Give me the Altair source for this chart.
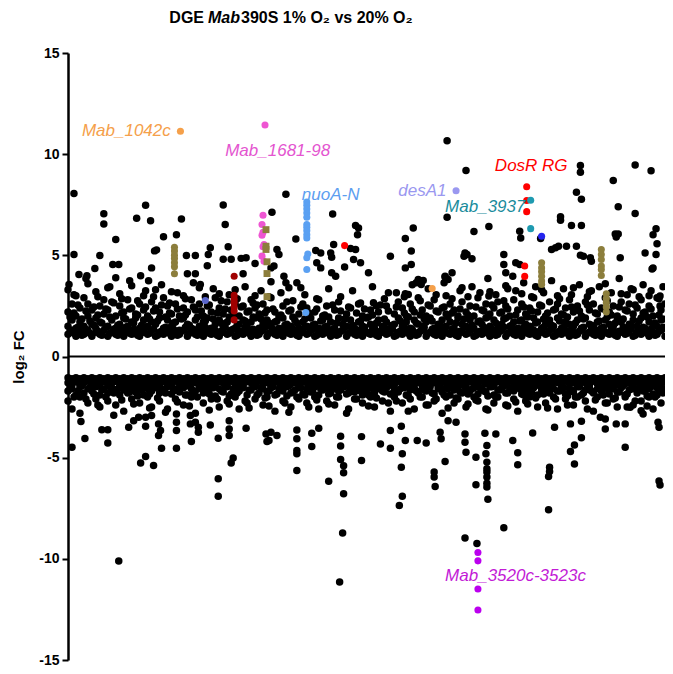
import altair as alt
import pandas as pd

# ---------------- data (x = gene position index, y = log2 FC) ----------------
band_up = {
    0: [1.1, 1.5, 2.2, 3.3], 4: [1.3, 1.8, 2.6], 8: [1.0, 1.4, 2.0, 3.0], 12: [1.2, 1.7, 2.4],
    16: [1.1, 1.5, 2.9], 20: [1.3, 2.0, 2.6, 3.6], 24: [1.0, 1.6, 2.3], 28: [1.2, 1.4, 1.9, 3.2],
    32: [1.1, 1.7, 2.5], 36: [1.3, 2.1, 2.8], 40: [1.0, 1.5, 2.3, 3.4], 44: [1.2, 1.8, 2.7],
    48: [1.1, 1.4, 2.0], 52: [1.3, 1.6, 2.5, 3.1], 56: [1.0, 1.9, 2.2], 60: [1.2, 1.5, 2.8],
    64: [1.1, 1.7, 2.4, 3.5], 68: [1.3, 1.9, 2.1], 72: [1.0, 1.4, 2.6], 76: [1.2, 1.8, 2.3, 3.0],
    80: [1.1, 1.5, 2.0], 84: [1.3, 1.7, 2.7], 88: [1.0, 1.6, 2.4, 3.3], 92: [1.2, 1.9, 2.2],
    96: [1.1, 1.4, 2.9], 100: [1.3, 1.8, 2.5], 104: [1.0, 1.5, 2.1, 3.2], 108: [1.2, 1.7, 2.6],
    112: [1.1, 1.3, 2.0], 116: [1.3, 1.9, 2.4, 3.0], 120: [1.0, 1.6, 2.2], 124: [1.2, 1.4, 2.8],
    128: [1.1, 1.8, 2.3], 132: [1.3, 1.5, 2.6, 3.4], 136: [1.0, 1.7, 2.0], 140: [1.2, 1.9, 2.5],
    144: [1.1, 1.4, 2.2], 148: [1.3, 1.6, 2.9], 152: [1.0, 1.8, 2.4, 3.1], 156: [1.2, 1.5, 2.1],
    160: [1.1, 1.7, 2.7], 164: [1.3, 1.9, 2.3], 168: [1.0, 1.4, 2.6, 3.3], 172: [1.2, 1.6, 2.0],
    176: [1.1, 1.8, 2.5], 180: [1.3, 1.5, 2.2], 184: [1.0, 1.7, 2.8], 188: [1.2, 1.9, 2.4, 3.0],
    192: [1.1, 1.4, 2.1], 196: [1.3, 1.6, 2.6], 200: [1.0, 1.8, 2.3], 204: [1.2, 1.5, 2.9],
    208: [1.1, 1.7, 2.2], 212: [1.3, 1.4, 2.0], 216: [1.0, 1.9, 2.5], 220: [1.2, 1.6, 2.7],
    224: [1.1, 1.5, 2.3], 228: [1.3, 1.8], 232: [1.0, 1.4, 2.1], 236: [1.2, 1.7, 2.6],
    240: [1.1, 1.5, 2.4], 244: [1.3, 1.9], 248: [1.0, 1.6, 2.2], 252: [1.2, 1.4, 2.8],
    256: [1.1, 1.8, 2.0], 260: [1.3, 1.5, 2.5], 264: [1.0, 1.7], 268: [1.2, 1.4, 2.3],
    272: [1.1, 1.9, 2.7], 276: [1.3, 1.6], 280: [1.0, 1.5, 2.1], 284: [1.2, 1.8, 2.4],
    288: [1.1, 1.4], 292: [1.3, 1.7, 2.6], 296: [1.0, 1.5, 2.0], 300: [1.2, 1.9],
    304: [1.1, 1.6, 2.3], 308: [1.3, 1.4], 312: [1.0, 1.8, 2.2], 316: [1.2, 1.5],
    320: [1.1, 1.7, 2.5], 324: [1.3, 1.4], 328: [1.0, 1.6, 2.1], 332: [1.2, 1.9, 2.7],
    336: [1.1, 1.5, 2.4], 340: [1.3, 1.7, 2.0], 344: [1.0, 1.4, 2.6], 348: [1.2, 1.8, 2.2],
    352: [1.1, 1.6, 2.9], 356: [1.3, 1.5, 2.3], 360: [1.0, 1.7, 2.0], 364: [1.2, 1.9, 2.5],
    368: [1.1, 1.4, 2.8], 372: [1.3, 1.6, 2.2], 376: [1.0, 1.8, 2.4], 380: [1.2, 1.5, 2.1, 3.0],
    384: [1.1, 1.7, 2.6], 388: [1.3, 1.4, 2.3], 392: [1.0, 1.9, 2.0], 396: [1.2, 1.6, 2.7, 3.4],
    400: [1.1, 1.5, 2.2], 404: [1.3, 1.8, 2.5], 408: [1.0, 1.4, 2.0], 412: [1.2, 1.7, 2.9],
    416: [1.1, 1.6, 2.3], 420: [1.3, 1.9, 2.6], 424: [1.0, 1.5, 2.1, 3.2], 428: [1.2, 1.8, 2.4],
    432: [1.1, 1.4, 2.7], 436: [1.3, 1.6, 2.2], 440: [1.0, 1.9, 2.5, 3.5], 444: [1.2, 1.5, 2.0],
    448: [1.1, 1.7, 2.8], 452: [1.3, 1.4, 2.3], 456: [1.0, 1.8, 2.6, 3.1], 460: [1.2, 1.6, 2.1],
    464: [1.1, 1.5, 2.4], 468: [1.3, 1.9, 2.9], 472: [1.0, 1.7, 2.2], 476: [1.2, 1.4, 2.5, 3.3],
    480: [1.1, 1.6, 2.0], 484: [1.3, 1.8, 2.7], 488: [1.0, 1.5, 2.3], 492: [1.2, 1.9, 2.6, 3.0],
    496: [1.1, 1.4, 2.1], 500: [1.3, 1.7, 2.4], 504: [1.0, 1.6, 2.8], 508: [1.2, 1.5, 2.2, 3.4],
    512: [1.1, 1.8, 2.5], 516: [1.3, 1.4, 2.0], 520: [1.0, 1.9, 2.7], 524: [1.2, 1.6, 2.3, 3.2],
    528: [1.1, 1.5, 2.6], 532: [1.3, 1.7, 2.1], 536: [1.0, 1.4, 2.4], 540: [1.2, 1.8, 2.9, 3.6],
    544: [1.1, 1.6, 2.2], 548: [1.3, 1.5, 2.5], 552: [1.0, 1.9, 2.0], 556: [1.2, 1.7, 2.7, 3.1],
    560: [1.1, 1.4, 2.3], 564: [1.3, 1.6, 2.6], 568: [1.0, 1.8, 2.1, 3.3], 572: [1.2, 1.5, 2.4],
    576: [1.1, 1.9, 2.8], 580: [1.3, 1.4, 2.2], 584: [1.0, 1.7, 2.5, 3.0], 588: [1.2, 1.6, 2.0],
    592: [1.1, 1.5, 2.9], 596: [1.3, 1.8, 2.3], 600: [1.0, 1.4, 2.6],
}

band_up_b = {
    2: [1.25, 1.95], 6: [1.15, 2.15, 3.05], 10: [1.45, 2.55], 14: [1.05, 1.85], 18: [1.35, 2.25, 3.85],
    22: [1.15, 1.75], 26: [1.55, 2.45], 30: [1.25, 2.05, 2.95], 34: [1.05, 1.65], 38: [1.45, 2.35],
    42: [1.15, 1.95, 3.45], 46: [1.35, 2.65], 50: [1.05, 1.55], 54: [1.25, 2.15, 2.85], 58: [1.45, 1.85],
    62: [1.15, 2.35, 3.75], 66: [1.35, 1.65], 70: [1.05, 2.05, 2.75], 74: [1.25, 1.55], 78: [1.45, 2.45, 3.25],
    82: [1.15, 1.85], 86: [1.35, 2.25, 2.95], 90: [1.05, 1.75], 94: [1.25, 2.55, 3.55], 98: [1.45, 1.95],
    102: [1.15, 2.15, 2.65], 106: [1.35, 1.65], 110: [1.05, 2.35, 3.15], 114: [1.25, 1.85], 118: [1.45, 2.05, 2.85],
    122: [1.15, 1.55], 126: [1.35, 2.45, 3.65], 130: [1.05, 1.95], 134: [1.25, 2.25], 138: [1.45, 1.75, 2.95],
    142: [1.15, 2.55], 146: [1.35, 1.85, 3.35], 150: [1.05, 2.15], 154: [1.25, 1.65, 2.75], 158: [1.45, 2.35],
    162: [1.15, 1.95, 3.05], 166: [1.35, 2.05], 170: [1.05, 1.55, 2.85], 174: [1.25, 2.45], 178: [1.45, 1.75, 3.45],
    182: [1.15, 2.25], 186: [1.35, 1.95, 2.65], 190: [1.05, 2.55], 194: [1.25, 1.85, 3.25], 198: [1.45, 2.15],
    202: [1.15, 1.65, 2.95], 206: [1.35, 2.35], 210: [1.05, 1.75], 214: [1.25, 2.05, 3.15], 218: [1.45, 1.55],
    222: [1.15, 2.25], 226: [1.35, 1.95, 2.75], 230: [1.05, 1.65], 234: [1.25, 2.45], 238: [1.45, 1.85, 3.05],
    242: [1.15, 2.15], 246: [1.35, 1.55], 250: [1.05, 2.35, 2.85], 254: [1.25, 1.75], 258: [1.45, 2.05],
    262: [1.15, 1.95, 3.35], 266: [1.35, 2.55], 270: [1.05, 1.65], 274: [1.25, 2.25, 2.95], 278: [1.45, 1.85],
    282: [1.15, 2.45], 286: [1.35, 1.55, 3.25], 290: [1.05, 2.15], 294: [1.25, 1.75, 2.65], 298: [1.45, 2.35],
    302: [1.15, 1.95], 306: [1.35, 2.05, 3.45], 310: [1.05, 1.65], 314: [1.25, 2.55], 318: [1.45, 1.85, 2.85],
    322: [1.15, 2.25], 326: [1.35, 1.55], 330: [1.05, 2.45, 3.15], 334: [1.25, 1.75], 338: [1.45, 2.15, 2.95],
    342: [1.15, 1.95], 346: [1.35, 2.35, 3.55], 350: [1.05, 1.65], 354: [1.25, 2.05, 2.75], 358: [1.45, 1.85],
    362: [1.15, 2.55, 3.35], 366: [1.35, 1.75], 370: [1.05, 2.25, 3.05], 374: [1.25, 1.55], 378: [1.45, 2.45, 3.65],
    382: [1.15, 1.95], 386: [1.35, 2.15, 2.85], 390: [1.05, 1.65], 394: [1.25, 2.35, 3.25], 398: [1.45, 1.85],
    402: [1.15, 2.05, 2.95], 406: [1.35, 1.55, 3.45], 410: [1.05, 2.45], 414: [1.25, 1.75, 3.15], 418: [1.45, 2.25],
    422: [1.15, 1.95, 3.85], 426: [1.35, 2.55], 430: [1.05, 1.65, 3.05], 434: [1.25, 2.15], 438: [1.45, 1.85, 2.75],
    442: [1.15, 2.35, 3.35], 446: [1.35, 1.55], 450: [1.05, 2.05, 3.25], 454: [1.25, 1.75], 458: [1.45, 2.45, 3.65],
    462: [1.15, 1.95], 466: [1.35, 2.25, 2.95], 470: [1.05, 1.65, 3.45], 474: [1.25, 2.55], 478: [1.45, 1.85, 3.15],
    482: [1.15, 2.15], 486: [1.35, 1.55, 3.75], 490: [1.05, 2.35], 494: [1.25, 1.75, 2.85], 498: [1.45, 2.05, 3.35],
    502: [1.15, 1.95], 506: [1.35, 2.45, 3.05], 510: [1.05, 1.65], 514: [1.25, 2.25, 3.55], 518: [1.45, 1.85],
    522: [1.15, 2.55, 2.95], 526: [1.35, 1.55, 3.25], 530: [1.05, 2.15], 534: [1.25, 1.75, 3.45], 538: [1.45, 2.35],
    542: [1.15, 1.95, 2.75], 546: [1.35, 2.05, 3.15], 550: [1.05, 1.65], 554: [1.25, 2.45, 3.85], 558: [1.45, 1.85],
    562: [1.15, 2.25, 3.05], 566: [1.35, 1.55, 3.35], 570: [1.05, 2.55], 574: [1.25, 1.75, 2.95], 578: [1.45, 2.15, 3.55],
    582: [1.15, 1.95], 586: [1.35, 2.35, 3.25], 590: [1.05, 1.65], 594: [1.25, 2.05, 2.85], 598: [1.45, 1.85, 3.45],
}

band_down = {
    0: [-1.05, -1.3, -1.7, -2.2], 4: [-1.1, -1.4, -1.6, -2.6], 8: [-1.05, -1.25, -1.9],
    12: [-1.1, -1.35, -1.5, -2.0, -2.8], 16: [-1.05, -1.3, -1.8], 20: [-1.1, -1.2, -1.6, -2.3],
    24: [-1.05, -1.4, -1.7], 28: [-1.1, -1.3, -1.5, -2.1], 32: [-1.05, -1.35, -1.9, -2.5],
    36: [-1.1, -1.25, -1.6], 40: [-1.05, -1.4, -1.8, -2.2], 44: [-1.1, -1.3, -1.55],
    48: [-1.05, -1.2, -1.7, -2.4], 52: [-1.1, -1.35, -1.5, -1.9], 56: [-1.05, -1.3, -1.65, -2.7],
    60: [-1.1, -1.45, -1.8], 64: [-1.05, -1.25, -1.6, -2.1], 68: [-1.1, -1.35, -1.75],
    72: [-1.05, -1.3, -1.5, -2.3], 76: [-1.1, -1.4, -1.9], 80: [-1.05, -1.2, -1.6, -2.0],
    84: [-1.1, -1.35, -1.7, -2.5], 88: [-1.05, -1.3, -1.55], 92: [-1.1, -1.45, -1.8, -2.2],
    96: [-1.05, -1.25, -1.65], 100: [-1.1, -1.3, -1.5, -2.6], 104: [-1.05, -1.4, -1.85],
    108: [-1.1, -1.2, -1.6, -2.1], 112: [-1.05, -1.35, -1.75], 116: [-1.1, -1.3, -1.55, -2.4],
    120: [-1.05, -1.45, -1.9], 124: [-1.1, -1.25, -1.6, -2.0], 128: [-1.05, -1.3, -1.7, -2.8],
    132: [-1.1, -1.4, -1.5], 136: [-1.05, -1.2, -1.8, -2.3], 140: [-1.1, -1.35, -1.65],
    144: [-1.05, -1.3, -1.55, -2.1], 148: [-1.1, -1.45, -1.95], 152: [-1.05, -1.25, -1.6, -2.5],
    156: [-1.1, -1.3, -1.75], 160: [-1.05, -1.4, -1.5, -2.2], 164: [-1.1, -1.2, -1.85],
    168: [-1.05, -1.35, -1.6, -2.0], 172: [-1.1, -1.3, -1.7, -2.6], 176: [-1.05, -1.45, -1.55],
    180: [-1.1, -1.25, -1.9, -2.3], 184: [-1.05, -1.3, -1.65], 188: [-1.1, -1.4, -1.5, -2.1],
    192: [-1.05, -1.2, -1.8], 196: [-1.1, -1.35, -1.6, -2.4], 200: [-1.05, -1.3, -1.75, -2.0],
    204: [-1.1, -1.45, -1.55], 208: [-1.05, -1.25, -1.9, -2.7], 212: [-1.1, -1.3, -1.6],
    216: [-1.05, -1.4, -1.7, -2.2], 220: [-1.1, -1.2, -1.5, -1.95], 224: [-1.05, -1.35, -1.8, -2.5],
    228: [-1.1, -1.3, -1.65], 232: [-1.05, -1.45, -1.55, -2.1], 236: [-1.1, -1.25, -1.85],
    240: [-1.05, -1.3, -1.6, -2.3], 244: [-1.1, -1.4, -1.75], 248: [-1.05, -1.2, -1.5, -2.0],
    252: [-1.1, -1.35, -1.9, -2.6], 256: [-1.05, -1.3, -1.65], 260: [-1.1, -1.45, -1.55, -2.2],
    264: [-1.05, -1.25, -1.8], 268: [-1.1, -1.3, -1.6, -2.4], 272: [-1.05, -1.4, -1.7, -2.0],
    276: [-1.1, -1.2, -1.5], 280: [-1.05, -1.35, -1.85, -2.8], 284: [-1.1, -1.3, -1.6],
    288: [-1.05, -1.45, -1.75, -2.1], 292: [-1.1, -1.25, -1.55], 296: [-1.05, -1.3, -1.9, -2.3],
    300: [-1.1, -1.4, -1.65], 304: [-1.05, -1.2, -1.5, -2.0], 308: [-1.1, -1.35, -1.8, -2.5],
    312: [-1.05, -1.3, -1.6], 316: [-1.1, -1.45, -1.7, -2.2], 320: [-1.05, -1.25, -1.55],
    324: [-1.1, -1.3, -1.85, -2.7], 328: [-1.05, -1.4, -1.6, -2.0], 332: [-1.1, -1.2, -1.75],
    336: [-1.05, -1.35, -1.5, -2.3], 340: [-1.1, -1.3, -1.9], 344: [-1.05, -1.45, -1.65, -2.1],
    348: [-1.1, -1.25, -1.55, -2.6], 352: [-1.05, -1.3, -1.8], 356: [-1.1, -1.4, -1.6, -2.0],
    360: [-1.05, -1.2, -1.7, -2.4], 364: [-1.1, -1.35, -1.5], 368: [-1.05, -1.3, -1.85, -2.2],
    372: [-1.1, -1.45, -1.6], 376: [-1.05, -1.25, -1.75, -2.8], 380: [-1.1, -1.3, -1.55, -2.0],
    384: [-1.05, -1.4, -1.9], 388: [-1.1, -1.2, -1.65, -2.3], 392: [-1.05, -1.35, -1.5, -2.1],
    396: [-1.1, -1.3, -1.8], 400: [-1.05, -1.45, -1.6, -2.5], 404: [-1.1, -1.25, -1.7],
    408: [-1.05, -1.3, -1.55, -2.0], 412: [-1.1, -1.4, -1.85, -2.2], 416: [-1.05, -1.2, -1.6],
    420: [-1.1, -1.35, -1.75, -2.6], 424: [-1.05, -1.3, -1.5], 428: [-1.1, -1.45, -1.9, -2.3],
    432: [-1.05, -1.25, -1.65, -2.0], 436: [-1.1, -1.3, -1.55], 440: [-1.05, -1.4, -1.8, -2.4],
    444: [-1.1, -1.2, -1.6], 448: [-1.05, -1.35, -1.7, -2.1], 452: [-1.1, -1.3, -1.5, -2.7],
    456: [-1.05, -1.45, -1.85], 460: [-1.1, -1.25, -1.6, -2.2], 464: [-1.05, -1.3, -1.75, -2.0],
    468: [-1.1, -1.4, -1.55], 472: [-1.05, -1.2, -1.9, -2.5], 476: [-1.1, -1.35, -1.65],
    480: [-1.05, -1.3, -1.5, -2.3], 484: [-1.1, -1.45, -1.8], 488: [-1.05, -1.25, -1.6, -2.0],
    492: [-1.1, -1.3, -1.7, -2.6], 496: [-1.05, -1.4, -1.55], 500: [-1.1, -1.2, -1.85, -2.1],
    504: [-1.05, -1.35, -1.6], 508: [-1.1, -1.3, -1.75, -2.4], 512: [-1.05, -1.45, -1.5, -2.0],
    516: [-1.1, -1.25, -1.9], 520: [-1.05, -1.3, -1.65, -2.2], 524: [-1.1, -1.4, -1.55],
    528: [-1.05, -1.2, -1.8, -2.7], 532: [-1.1, -1.35, -1.6, -2.0], 536: [-1.05, -1.3, -1.7],
    540: [-1.1, -1.45, -1.5, -2.3], 544: [-1.05, -1.25, -1.85], 548: [-1.1, -1.3, -1.6, -2.1],
    552: [-1.05, -1.4, -1.75, -2.5], 556: [-1.1, -1.2, -1.55], 560: [-1.05, -1.35, -1.9, -2.0],
    564: [-1.1, -1.3, -1.65], 568: [-1.05, -1.45, -1.6, -2.4], 572: [-1.1, -1.25, -1.8],
    576: [-1.05, -1.3, -1.5, -2.2], 580: [-1.1, -1.4, -1.7], 584: [-1.05, -1.2, -1.6, -2.0],
    588: [-1.1, -1.35, -1.85, -2.6], 592: [-1.05, -1.3, -1.55, -1.9], 596: [-1.1, -1.45, -1.7, -2.3],
    600: [-1.05, -1.25, -1.6],
}

band_down_b = {
    2: [-1.2, -1.5], 6: [-1.15, -2.0], 10: [-1.25, -1.7], 14: [-1.15, -1.45], 18: [-1.2, -2.1],
    22: [-1.25, -1.55], 26: [-1.15, -1.85], 30: [-1.2, -1.45, -2.4], 34: [-1.25, -1.65], 38: [-1.15, -2.0],
    42: [-1.2, -1.5], 46: [-1.25, -1.8, -2.9], 50: [-1.15, -1.6], 54: [-1.2, -2.15], 58: [-1.25, -1.45],
    62: [-1.15, -1.75], 66: [-1.2, -1.55, -2.35], 70: [-1.25, -1.95], 74: [-1.15, -1.65], 78: [-1.2, -1.45],
    82: [-1.25, -1.85, -2.55], 86: [-1.15, -1.5], 90: [-1.2, -2.05], 94: [-1.25, -1.6], 98: [-1.15, -1.8, -2.75],
    102: [-1.2, -1.45], 106: [-1.25, -1.7], 110: [-1.15, -2.25], 114: [-1.2, -1.55], 118: [-1.25, -1.9],
    122: [-1.15, -1.45, -2.45], 126: [-1.2, -1.75], 130: [-1.25, -2.0], 134: [-1.15, -1.6], 138: [-1.2, -1.5],
    142: [-1.25, -1.85, -2.65], 146: [-1.15, -1.55], 150: [-1.2, -2.1], 154: [-1.25, -1.7], 158: [-1.15, -1.45],
    162: [-1.2, -1.95, -2.35], 166: [-1.25, -1.6], 170: [-1.15, -1.8], 174: [-1.2, -1.5], 178: [-1.25, -2.2],
    182: [-1.15, -1.65, -2.55], 186: [-1.2, -1.45], 190: [-1.25, -1.9], 194: [-1.15, -1.55], 198: [-1.2, -2.05],
    202: [-1.25, -1.7, -2.45], 206: [-1.15, -1.5], 210: [-1.2, -1.85], 214: [-1.25, -1.6], 218: [-1.15, -2.3],
    222: [-1.2, -1.45, -2.75], 226: [-1.25, -1.75], 230: [-1.15, -2.0], 234: [-1.2, -1.55], 238: [-1.25, -1.9],
    242: [-1.15, -1.5, -2.5], 246: [-1.2, -1.7], 250: [-1.25, -2.15], 254: [-1.15, -1.6], 258: [-1.2, -1.45],
    262: [-1.25, -1.85, -2.35], 266: [-1.15, -1.55], 270: [-1.2, -2.0], 274: [-1.25, -1.65], 278: [-1.15, -1.5],
    282: [-1.2, -1.8, -2.6], 286: [-1.25, -1.45], 290: [-1.15, -2.1], 294: [-1.2, -1.7], 298: [-1.25, -1.55],
    302: [-1.15, -1.9, -2.45], 306: [-1.2, -1.6], 310: [-1.25, -2.05], 314: [-1.15, -1.5], 318: [-1.2, -1.75],
    322: [-1.25, -1.45, -2.3], 326: [-1.15, -1.85], 330: [-1.2, -2.2], 334: [-1.25, -1.6], 338: [-1.15, -1.55],
    342: [-1.2, -1.95, -2.7], 346: [-1.25, -1.5], 350: [-1.15, -1.7], 354: [-1.2, -2.0], 358: [-1.25, -1.65],
    362: [-1.15, -1.45, -2.4], 366: [-1.2, -1.8], 370: [-1.25, -2.1], 374: [-1.15, -1.55], 378: [-1.2, -1.9],
    382: [-1.25, -1.6, -2.55], 386: [-1.15, -1.5], 390: [-1.2, -2.05], 394: [-1.25, -1.75], 398: [-1.15, -1.45],
    402: [-1.2, -1.85, -2.35], 406: [-1.25, -1.6], 410: [-1.15, -2.15], 414: [-1.2, -1.55], 418: [-1.25, -1.7],
    422: [-1.15, -1.95, -2.65], 426: [-1.2, -1.5], 430: [-1.25, -2.0], 434: [-1.15, -1.65], 438: [-1.2, -1.45],
    442: [-1.25, -1.8, -2.45], 446: [-1.15, -1.55], 450: [-1.2, -2.25], 454: [-1.25, -1.6], 458: [-1.15, -1.9],
    462: [-1.2, -1.5, -2.35], 466: [-1.25, -1.75], 470: [-1.15, -2.05], 474: [-1.2, -1.45], 478: [-1.25, -1.85],
    482: [-1.15, -1.6, -2.55], 486: [-1.2, -1.5], 490: [-1.25, -2.1], 494: [-1.15, -1.7], 498: [-1.2, -1.55],
    502: [-1.25, -1.95, -2.4], 506: [-1.15, -1.65], 510: [-1.2, -2.0], 514: [-1.25, -1.5], 518: [-1.15, -1.8],
    522: [-1.2, -1.45, -2.6], 526: [-1.25, -1.7], 530: [-1.15, -2.15], 534: [-1.2, -1.55], 538: [-1.25, -1.9],
    542: [-1.15, -1.6, -2.3], 546: [-1.2, -1.5], 550: [-1.25, -2.05], 554: [-1.15, -1.75], 558: [-1.2, -1.45],
    562: [-1.25, -1.85, -2.5], 566: [-1.15, -1.6], 570: [-1.2, -2.2], 574: [-1.25, -1.55], 578: [-1.15, -1.7],
    582: [-1.2, -1.95, -2.45], 586: [-1.25, -1.5], 590: [-1.15, -2.0], 594: [-1.2, -1.65], 598: [-1.25, -1.8],
}

up_out_x = [6, 6, 36, 36, 78, 69, 83, 48, 32, 45, 51, 27, 114, 109, 96, 89, 87, 84, 119, 128,
            143, 141, 140, 156, 158, 161, 156, 164, 179, 174, 176, 188, 11, 19, 48, 1, 133, 73, 81, 120,
            128, 219, 205, 266, 289, 292, 291, 229, 267, 284, 289, 249, 254, 264, 265, 210, 212, 287, 294, 278,
            207, 204, 250, 254, 302, 265, 269, 324, 339, 347, 345, 339, 345, 381, 322, 352, 355, 350, 379, 382,
            342, 339, 307, 310, 230, 234, 204, 217, 219, 222, 381, 400, 423, 408, 399, 401, 406, 386, 379, 357,
            355, 454, 455, 438, 438, 440, 450, 454, 447, 515, 515, 570, 586, 548, 511, 516, 553, 570, 495, 495,
            506, 516, 591, 588, 550, 553, 551, 475, 493, 501, 511, 486, 490, 515, 518, 525, 526, 580, 591, 588,
            555, 592, 587, 595, 595, 423, 398]
up_out_y = [8.06, 5.04, 7.06, 6.55, 7.47, 6.83, 6.71, 5.78, 4.99, 4.55, 4.55, 4.35, 6.80, 6.02, 5.92, 5.27, 5.22, 4.38, 4.99, 4.99,
            5.37, 5.04, 4.48, 7.49, 6.52, 5.43, 4.81, 4.81, 4.88, 4.85, 4.09, 4.60, 4.05, 3.99, 3.89, 3.56, 3.56, 3.99, 3.74, 4.09,
            4.09, 8.02, 7.13, 7.04, 6.47, 6.35, 6.02, 5.81, 5.53, 5.34, 5.29, 5.24, 5.12, 5.12, 4.91, 5.29, 5.04, 4.79, 4.63, 4.42,
            4.47, 4.38, 4.63, 4.38, 4.14, 4.14, 3.97, 4.96, 5.83, 6.35, 5.21, 4.38, 4.55, 6.88, 3.15, 3.81, 3.73, 3.65, 3.93, 3.81,
            3.07, 3.10, 2.66, 2.50, 3.65, 3.40, 3.69, 3.97, 3.65, 3.40, 10.66, 9.19, 6.43, 6.18, 5.12, 5.04, 4.83, 4.14, 3.97, 3.76,
            3.56, 6.19, 5.86, 5.04, 4.55, 4.14, 4.63, 4.55, 3.97, 9.44, 9.11, 9.47, 9.18, 8.70, 8.12, 7.77, 7.40, 7.07, 6.91, 6.73,
            6.48, 6.48, 6.31, 6.02, 6.06, 6.06, 5.90, 5.83, 5.45, 5.45, 5.45, 5.29, 5.37, 5.01, 4.96, 4.88, 4.71, 5.12, 5.04, 4.38,
            4.88, 5.57, 4.33, 2.99, 2.50, 2.99, 4.96]

down_out_x = [4, 13, 17, 34, 40, 40, 61, 66, 71, 73, 78, 78, 78, 84, 86, 91, 93, 91, 94, 109,
              109, 109, 109, 123, 123, 124, 128, 131, 131, 143, 151, 151, 151, 51, 162, 162, 162, 166, 164, 179,
              199, 200, 202, 204, 210, 230, 230, 230, 230, 230, 245, 245, 252, 262, 274, 274, 274, 277, 277, 277,
              276, 273, 295, 295, 314, 324, 324, 335, 336, 335, 333, 336, 339, 351, 360, 368, 368, 369, 374, 375,
              379, 382, 390, 399, 399, 400, 399, 410, 410, 411, 419, 421, 420, 421, 421, 421, 421, 421, 421, 422,
              430, 438, 447, 452, 452, 467, 484, 484, 483, 483, 489, 505, 509, 509, 516, 516, 505, 540, 535, 540,
              551, 560, 560, 565, 576, 578, 593, 594, 594, 595]
down_out_y = [-4.48, -3.21, -4.05, -3.62, -3.62, -4.27, -3.50, -3.17, -3.00, -5.26, -4.94, -3.00, -3.45, -2.92, -5.39, -3.33, -3.66, -3.91, -4.53, -4.53,
              -2.84, -3.25, -3.66, -2.92, -3.33, -4.20, -3.25, -3.50, -3.74, -3.38, -4.04, -6.04, -6.91, -10.11, -3.17, -3.58, -3.91, -5.02, -5.26, -3.55,
              -3.83, -4.20, -4.15, -3.74, -3.91, -3.63, -4.07, -4.64, -4.81, -5.63, -3.79, -4.45, -3.55, -6.17, -3.94, -4.42, -5.09, -5.40, -5.75, -6.78,
              -8.72, -11.15, -3.96, -5.14, -4.32, -3.66, -4.53, -3.45, -4.81, -5.47, -7.36, -6.91, -4.15, -4.15, -4.27, -5.71, -5.96, -6.42, -3.74, -4.07,
              -5.19, -3.17, -3.25, -3.83, -4.24, -4.73, -8.97, -4.98, -6.34, -9.24, -3.79, -4.40, -4.81, -5.22, -5.55, -5.71, -5.96, -6.26, -6.45, -7.06,
              -3.83, -8.46, -4.15, -4.76, -5.35, -3.78, -5.47, -5.68, -5.93, -7.57, -3.50, -4.69, -5.31, -4.37, -4.02, -3.20, -3.33, -3.09, -3.00, -3.58,
              -3.33, -3.33, -4.48, -2.51, -2.68, -2.84, -3.25, -3.50, -6.15, -6.35]

# highlighted gene groups: (name, colour, x list, y list)
hl_groups = [
    ("Mab_1042c", "#F5A04A", [113, 366], [11.13, 3.36]),
    ("Mab_1681-98", "#EE55D2", [198, 196, 195, 196, 195, 197, 196, 195, 197], [11.44, 6.98, 6.52, 6.14, 5.99, 5.53, 5.42, 4.96, 4.71]),
    ("nuoA-N", "#5AA0F2", [240, 240, 240, 240, 240, 240, 240, 240, 240, 240, 241, 240, 240, 239],
     [7.63, 7.47, 7.29, 7.09, 6.88, 6.52, 6.39, 6.22, 6.02, 5.86, 5.07, 4.88, 4.30, 2.17]),
    ("desA1", "#9A98F0", [390], [8.19]),
    ("DosR RG", "#FF0000", [278, 461, 461, 461, 459, 459], [5.48, 8.39, 7.71, 7.16, 4.47, 3.96]),
    ("Mab_3937", "#1E9AB0", [465, 465], [7.72, 6.32]),
    ("dark blue", "#2424EE", [476], [5.94]),
    ("dark red", "#A00000", [167, 167, 167, 167, 167, 167, 167], [3.97, 3.02, 2.82, 2.66, 2.45, 2.25, 1.81]),
    ("slate", "#5A66CC", [138], [2.77]),
    ("olive", "#8C7E3C", [107, 107, 107, 107, 107, 107, 107, 476, 476, 476, 476, 476, 476,
                          536, 536, 536, 536, 536, 536, 541, 541, 541, 541, 541],
     [5.40, 5.21, 5.01, 4.84, 4.63, 4.43, 4.09, 4.63, 4.38, 4.19, 3.97, 3.73, 3.56,
      5.29, 5.04, 4.79, 4.47, 4.30, 4.00, 3.10, 2.87, 2.66, 2.45, 2.20]),
    ("Mab_3520c-3523c", "#BB00EE", [412, 412, 412, 412], [-9.69, -10.10, -11.49, -12.53]),
]
olive_sq_x = [199, 199, 199, 200, 200, 200]
olive_sq_y = [6.27, 5.45, 5.29, 4.68, 4.10, 2.96]

label_text = ["Mab_1042c", "Mab_1681-98", "nuoA-N", "desA1", "Mab_3937", "DosR RG", "Mab_3520c-3523c"]
label_x = [14, 158, 235, 332, 379, 429, 379]
label_y = [11.13, 10.15, 7.98, 8.18, 7.39, 9.41, -10.84]
label_color = ["#F5A04A", "#E455D0", "#5C9EF0", "#9A98F0", "#1A8C9C", "#FF0000", "#C21BD6"]

# ---------------- tables ----------------
black_rows = []
for band in (band_up, band_up_b, band_down, band_down_b):
    for gx, ys in band.items():
        for gy in ys:
            black_rows.append({"x": gx, "y": gy})
for gx, gy in zip(up_out_x, up_out_y):
    black_rows.append({"x": gx, "y": gy})
for gx, gy in zip(down_out_x, down_out_y):
    black_rows.append({"x": gx, "y": gy})
black_df = pd.DataFrame(black_rows)

hl_rows = []
for name, col, xs, ys in hl_groups:
    for gx, gy in zip(xs, ys):
        hl_rows.append({"x": gx, "y": gy, "group": name, "color": col})
hl_df = pd.DataFrame(hl_rows)
sq_df = pd.DataFrame({"x": olive_sq_x, "y": olive_sq_y})
lab_df = pd.DataFrame({"x": label_x, "y": label_y, "text": label_text, "color": label_color})
zero_df = pd.DataFrame({"y": [0]})

FONT = "Liberation Sans"
W, H = 597, 607
PT = 56

xenc = alt.X("x:Q", scale=alt.Scale(domain=[0, 600], nice=False, zero=False), axis=None)
yenc = alt.Y("y:Q", scale=alt.Scale(domain=[-15, 15], nice=False, zero=False),
             axis=alt.Axis(values=[-15, -10, -5, 0, 5, 10, 15], title="log₂ FC", grid=False,
                           labelExpr="replace(datum.label, '\u2212', '-')",
                           domainColor="black", domainWidth=2.5, tickColor="black", tickWidth=2,
                           tickSize=6, labelFont=FONT, labelFontSize=14, labelFontWeight="bold",
                           labelColor="black", labelPadding=3, titleFont=FONT, titleFontSize=15,
                           titleFontWeight="bold", titleColor="black", titlePadding=12))

zero_line = alt.Chart(zero_df).mark_rule(color="black", strokeWidth=2).encode(y=yenc)
black_pts = alt.Chart(black_df).mark_circle(size=PT, color="black", opacity=1).encode(x=xenc, y=yenc)
hl_pts = alt.Chart(hl_df).mark_circle(size=PT - 6, opacity=1).encode(
    x=xenc, y=yenc, color=alt.Color("color:N", scale=None))
sq_pts = alt.Chart(sq_df).mark_square(size=48, color="#8C7E3C", opacity=1).encode(x=xenc, y=yenc)
labels = alt.Chart(lab_df).mark_text(font=FONT, fontSize=17, fontStyle="italic", align="left",
                                     baseline="middle").encode(
    x=xenc, y=yenc, text="text:N", color=alt.Color("color:N", scale=None))

# title pieces (plain / italic) placed above the plot
TY = -35
t1 = alt.Chart(pd.DataFrame({"t": ["DGE"]})).mark_text(
    font=FONT, fontSize=16, fontWeight="bold", align="right", baseline="middle", color="black"
).encode(text="t:N", x=alt.value(136), y=alt.value(TY))
t2 = alt.Chart(pd.DataFrame({"t": ["Mab"]})).mark_text(
    font=FONT, fontSize=16, fontWeight="bold", fontStyle="italic", align="left", baseline="middle", color="black"
).encode(text="t:N", x=alt.value(140), y=alt.value(TY))
t3 = alt.Chart(pd.DataFrame({"t": ["390S 1% O₂ vs 20% O₂"]})).mark_text(
    font=FONT, fontSize=16, fontWeight="bold", align="left", baseline="middle", color="black"
).encode(text="t:N", x=alt.value(173), y=alt.value(TY))

chart = alt.layer(zero_line, black_pts, hl_pts, sq_pts, labels, t1, t2, t3).properties(
    width=W, height=H,
    autosize=alt.AutoSizeParams(type="none"),
    padding={"left": 60, "top": 45, "right": 0, "bottom": 6},
).configure(background="white", view=alt.ViewConfig(stroke="transparent", strokeWidth=0))

chart.save("out.html", embed_options={"renderer": "svg", "actions": False})
